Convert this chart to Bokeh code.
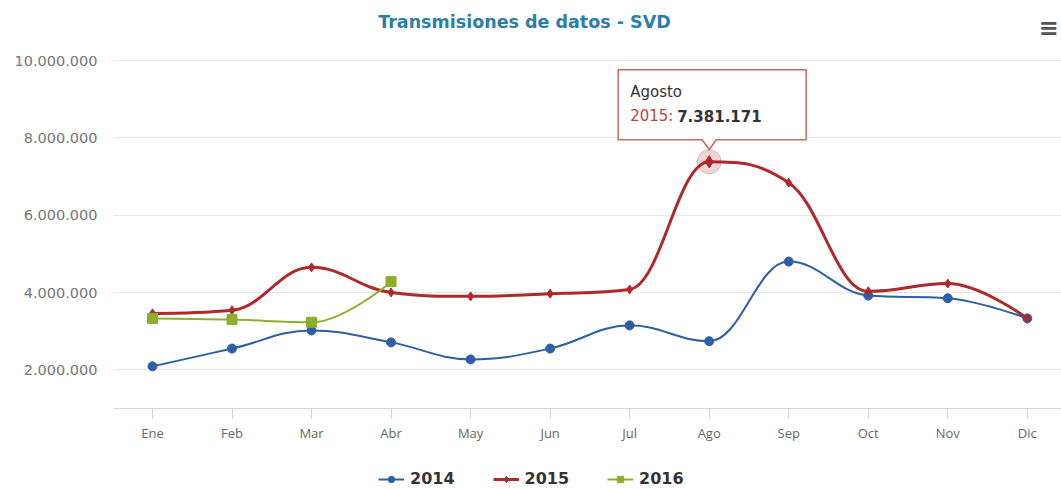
from bokeh.plotting import figure
from bokeh.layouts import column
from bokeh.models import (FixedTicker, Label, Legend, LegendItem, Range1d)
from bokeh.core.properties import value
from bokeh.embed import file_html
from bokeh.resources import INLINE

# ---------------- data ----------------
months = ["Ene", "Feb", "Mar", "Abr", "May", "Jun", "Jul", "Ago", "Sep", "Oct", "Nov", "Dic"]
months_long = ["Enero", "Febrero", "Marzo", "Abril", "Mayo", "Junio", "Julio",
               "Agosto", "Septiembre", "Octubre", "Noviembre", "Diciembre"]
s2014 = [2090000, 2550000, 3020000, 2710000, 2270000, 2550000, 3150000,
         2740000, 4800000, 3920000, 3850000, 3330000]
s2015 = [3460000, 3540000, 4650000, 4000000, 3900000, 3970000, 4080000,
         7381171, 6840000, 4030000, 4230000, 3330000]
s2016 = [3330000, 3300000, 3230000, 4280000]
y_ticks = [2000000, 4000000, 6000000, 8000000, 10000000]
y_tick_labels = ["2.000.000", "4.000.000", "6.000.000", "8.000.000", "10.000.000"]
title_text = "Transmisiones de datos - SVD"
hover_series = "2015"
hover_index = 7

BLUE = "#2d5ea8"
RED = "#b0282a"
GREEN = "#8cae2c"

W, H = 1061, 489
LEG_H = 31                # height of the legend strip below the chart
H1 = H - LEG_H
LEFT, RIGHT, BOTTOM = 113, 0, 50
PLOT_TOP = 60            # pixel row of the top gridline (10.000.000)
X0, X1 = -0.49, 11.43
Y0, YMAXTICK = 1000000, 10000000

frame_w = W - LEFT - RIGHT
frame_h = H1 - BOTTOM
dx = (X1 - X0) / frame_w
dy = (YMAXTICK - Y0) / (frame_h - PLOT_TOP)
Y1 = YMAXTICK + PLOT_TOP * dy   # frame extends to the top of the canvas

p = figure(width=W, height=H1, output_backend="svg", toolbar_location=None,
           x_range=Range1d(X0, X1), y_range=Range1d(Y0, Y1),
           min_border_left=LEFT, min_border_right=RIGHT,
           min_border_top=0, min_border_bottom=BOTTOM)
p.outline_line_color = None
p.background_fill_color = "white"
p.border_fill_color = "white"

# axes
p.xaxis.ticker = FixedTicker(ticks=list(range(len(months))))
p.xaxis.major_label_overrides = {i: m for i, m in enumerate(months)}
p.xaxis.axis_line_color = "#d4d4d4"
p.xaxis.major_tick_line_color = "#d4d4d4"
p.xaxis.major_tick_in = 0
p.xaxis.major_tick_out = 10
p.xaxis.minor_tick_line_color = None
p.xaxis.major_label_text_font = "Open Sans"
p.xaxis.major_label_text_font_size = "13px"
p.xaxis.major_label_text_color = "#666666"
p.xaxis.major_label_standoff = 5

p.yaxis.ticker = FixedTicker(ticks=y_ticks)
p.yaxis.major_label_overrides = {t: l for t, l in zip(y_ticks, y_tick_labels)}
p.yaxis.axis_line_color = None
p.yaxis.major_tick_line_color = None
p.yaxis.minor_tick_line_color = None
p.yaxis.major_label_text_font = "DejaVu Sans"
p.yaxis.major_label_text_font_size = "14.5px"
p.yaxis.major_label_text_color = "#777777"
p.yaxis.major_label_standoff = 10

p.xgrid.grid_line_color = None
p.ygrid.grid_line_color = "#e8e8e8"
p.ygrid.ticker = FixedTicker(ticks=y_ticks)


# Highcharts-style spline control points
def spline_segments(xs, ys):
    n = len(xs)
    smoothing = 1.5
    denom = smoothing + 1
    left = [None] * n
    right = [None] * n
    for i in range(1, n - 1):
        lx, ly = xs[i - 1], ys[i - 1]
        nx, ny = xs[i + 1], ys[i + 1]
        px, py = xs[i], ys[i]
        lcx = (smoothing * px + lx) / denom
        lcy = (smoothing * py + ly) / denom
        rcx = (smoothing * px + nx) / denom
        rcy = (smoothing * py + ny) / denom
        corr = 0
        if rcx != lcx:
            corr = (rcy - lcy) * (rcx - px) / (rcx - lcx) + py - rcy
        lcy += corr
        rcy += corr
        if lcy > ly and lcy > py:
            lcy = max(ly, py)
            rcy = 2 * py - lcy
        elif lcy < ly and lcy < py:
            lcy = min(ly, py)
            rcy = 2 * py - lcy
        if rcy > ny and rcy > py:
            rcy = max(ny, py)
            lcy = 2 * py - rcy
        elif rcy < ny and rcy < py:
            rcy = min(ny, py)
            lcy = 2 * py - rcy
        left[i] = (lcx, lcy)
        right[i] = (rcx, rcy)
    seg = dict(x0=[], y0=[], x1=[], y1=[], cx0=[], cy0=[], cx1=[], cy1=[])
    for i in range(1, n):
        c0 = right[i - 1] or (xs[i - 1], ys[i - 1])
        c1 = left[i] or (xs[i], ys[i])
        seg["x0"].append(xs[i - 1]); seg["y0"].append(ys[i - 1])
        seg["x1"].append(xs[i]); seg["y1"].append(ys[i])
        seg["cx0"].append(c0[0]); seg["cy0"].append(c0[1])
        seg["cx1"].append(c1[0]); seg["cy1"].append(c1[1])
    return seg


series = [
    ("2014", s2014, BLUE, 2, "circle", 9),
    ("2015", s2015, RED, 3, "diamond", 9),
    ("2016", s2016, GREEN, 2, "square", 10),
]

# legend strip (separate figure below the chart)
p2 = figure(width=W, height=LEG_H, output_backend="svg", toolbar_location=None,
            x_range=Range1d(0, 1), y_range=Range1d(0, 1),
            min_border_left=0, min_border_right=0, min_border_top=0, min_border_bottom=0)
p2.axis.visible = False
p2.grid.visible = False
p2.outline_line_color = None
p2.background_fill_color = "white"
p2.border_fill_color = "white"

items = []
for name, ys, color, lw, marker, msize in series:
    xs = list(range(len(ys)))
    seg = spline_segments(xs, ys)
    p.bezier(line_color=color, line_width=lw, **seg)
    p.scatter(xs, ys, marker=marker, size=msize, fill_color=color,
              line_color=color, line_width=1)
    # legend proxies: same series data, drawn in the legend strip (outside its visible range)
    l2 = p2.line(xs, ys, line_color=color, line_width=lw)
    m2 = p2.scatter(xs, ys, marker=marker, size=msize, fill_color=color, line_color=color)
    items.append(LegendItem(label=name, renderers=[l2, m2]))

# hover halo + hovered marker
hy = s2015[hover_index]
hx = hover_index
p.scatter([hx], [hy], marker="circle", size=24, fill_color=RED, fill_alpha=0.2,
          line_color=RED, line_alpha=0.25)
p.scatter([hx], [hy], marker="diamond", size=12, fill_color=RED, line_color=RED)

# tooltip callout (offsets in px from the hovered point)
L_, R_, T_, B_, TIP, HW = -91, 97, 92, 22, 12, 7
box_x = [hx + L_ * dx, hx + R_ * dx, hx + R_ * dx, hx + HW * dx, hx,
         hx - HW * dx, hx + L_ * dx]
box_y = [hy + T_ * dy, hy + T_ * dy, hy + B_ * dy, hy + B_ * dy, hy + TIP * dy,
         hy + B_ * dy, hy + B_ * dy]
p.patch(box_x, box_y, fill_color="white", fill_alpha=0.93, line_color="#c26a64",
        line_width=1.5, line_join="round")

tx = hx + (-79) * dx
p.text([tx], [hy + 70 * dy], text=[months_long[hover_index]], text_font=value("DejaVu Sans"),
       text_font_size="15px", text_color="#333333", text_baseline="middle")
p.text([tx], [hy + 46 * dy], text=[hover_series + ":"], text_font=value("DejaVu Sans"),
       text_font_size="15px", text_color="#b8463f", text_baseline="middle")


def fmt(v):
    return f"{v:,}".replace(",", ".")


p.text([tx + 47 * dx], [hy + 46 * dy], text=[fmt(hy)], text_font=value("DejaVu Sans"),
       text_font_size="15px", text_font_style="bold", text_color="#333333",
       text_baseline="middle")

# title & menu icon (screen units relative to the frame's bottom-left)
p.add_layout(Label(x=524 - LEFT, y=frame_h - 21, x_units="screen", y_units="screen",
                   text=title_text, text_font="DejaVu Sans", text_font_size="17.5px",
                   text_font_style="bold", text_color="#2b7daa", text_align="center",
                   text_baseline="middle"))
p.add_layout(Label(x=1048 - LEFT, y=frame_h - 27, x_units="screen", y_units="screen",
                   text="\u2261", text_font="DejaVu Sans", text_font_size="24px",
                   text_font_style="bold", text_color="#555555", text_align="center",
                   text_baseline="middle"))

# legend: location is the bottom-left corner, relative to the (aligned) frame
legend = Legend(items=items, orientation="horizontal", location=(378 - LEFT, 1),
                label_text_font="DejaVu Sans", label_text_font_size="16px",
                label_text_font_style="bold", label_text_color="#333333",
                glyph_width=26, glyph_height=16, label_standoff=6, spacing=38,
                padding=0, margin=0, border_line_alpha=0, background_fill_alpha=0)
p2.add_layout(legend, "center")

layout = column(p, p2, spacing=0)
open("out.html", "w").write(file_html(layout, INLINE))
